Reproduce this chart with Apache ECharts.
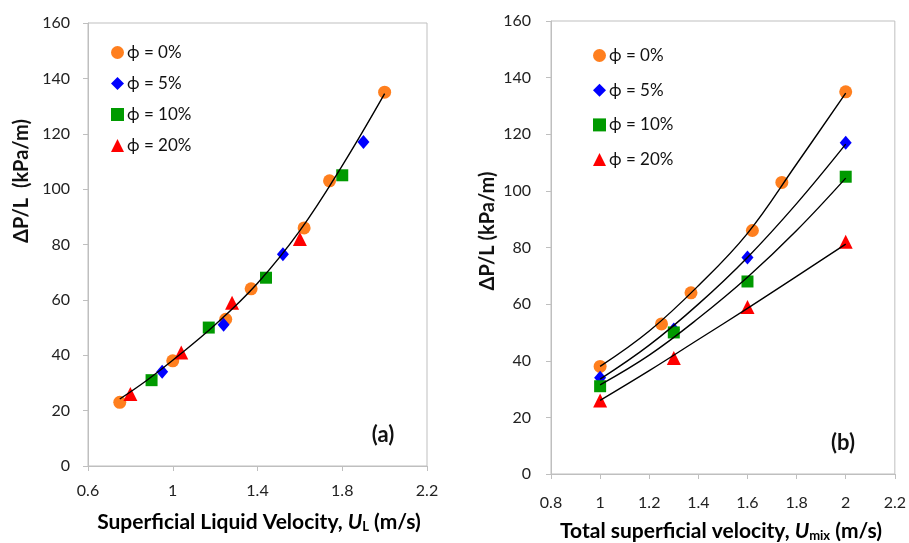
<!DOCTYPE html>
<html>
<head>
<meta charset="utf-8">
<script src="https://cdn.jsdelivr.net/npm/echarts@6/dist/echarts.min.js"></script>
<style>
  html, body { margin: 0; padding: 0; background: #fff; }
  #chart { width: 909px; height: 543px; }
</style>
</head>
<body>
<div id="chart"></div>
<script>
// Panel (a): pressure gradient vs superficial liquid velocity
const seriesNames = ['ϕ = 0%', 'ϕ = 5%', 'ϕ = 10%', 'ϕ = 20%'];

const aX0 = [0.75, 1.0, 1.25, 1.37, 1.62, 1.74, 2.0];
const aY0 = [23, 38, 53, 64, 86, 103, 135];
const aX5 = [0.95, 1.24, 1.52, 1.9];
const aY5 = [34, 51, 76.5, 117];
const aX10 = [0.9, 1.17, 1.44, 1.8];
const aY10 = [31, 50, 68, 105];
const aX20 = [0.8, 1.04, 1.28, 1.6];
const aY20 = [26, 41, 59, 82];

// single trend curve through all loadings
const aFitX = [0.75, 0.875, 1.0, 1.2, 1.4, 1.6, 1.8, 2.0];
const aFitY = [24.2, 30.8, 38.2, 51, 66, 85, 108.5, 134.5];

// Panel (b): pressure gradient vs total superficial velocity
const bX0 = [1.0, 1.25, 1.37, 1.62, 1.74, 2.0];
const bY0 = [38, 53, 64, 86, 103, 135];
const bX = [1.0, 1.3, 1.6, 2.0];
const bY5 = [34, 51, 76.5, 117];
const bY10 = [31, 50, 68, 105];
const bY20 = [26, 41, 59, 82];

// one trend curve per loading
const bFitX = [1.0, 1.2, 1.4, 1.6, 1.8, 2.0];
const bFit0 = [38, 50.5, 66.5, 85, 109.5, 134.5];
const bFit5 = [33.5, 45.5, 60, 76.5, 95.5, 116.5];
const bFit10 = [31.5, 42, 55, 69.5, 86, 104.5];
const bFit20 = [26, 36.5, 47.5, 58.5, 69.8, 81.2];

const yTicks = { min: 0, max: 160, interval: 20 };
const aTicks = { min: 0.6, max: 2.2, interval: 0.4 };
const bTicks = { min: 0.8, max: 2.2, interval: 0.2 };

const colors = ['#FF7F1E', '#0000FF', '#009A00', '#FF0000'];
const symbols = ['circle', 'diamond', 'rect', 'triangle'];
const sizes = [13, [12, 14], 12, 14];

const FONT = 'Lato, "Open Sans", sans-serif';
const AXIS_GRAY = '#BFBFBF';

const zip = (xs, ys) => xs.map((x, i) => [x, ys[i]]);

function xAxisFor(ticks, gridIndex, margin) {
  return {
    type: 'value', gridIndex, min: ticks.min, max: ticks.max, interval: ticks.interval,
    axisLine: { show: true, lineStyle: { color: AXIS_GRAY, width: 1 } },
    axisTick: { show: true, length: 5, lineStyle: { color: AXIS_GRAY } },
    splitLine: { show: false },
    axisLabel: { fontFamily: FONT, fontSize: 16, color: '#222', margin }
  };
}
function yAxisFor(gridIndex, margin) {
  return {
    type: 'value', gridIndex, min: yTicks.min, max: yTicks.max, interval: yTicks.interval,
    axisLine: { show: true, lineStyle: { color: AXIS_GRAY, width: 1 } },
    axisTick: { show: true, length: 5, lineStyle: { color: AXIS_GRAY } },
    splitLine: { show: false },
    axisLabel: { fontFamily: FONT, fontSize: 16, color: '#222', margin }
  };
}

function scatter(i, data, axisIndex) {
  return {
    type: 'scatter', name: seriesNames[i], xAxisIndex: axisIndex, yAxisIndex: axisIndex,
    data, symbol: symbols[i], symbolSize: sizes[i],
    itemStyle: { color: colors[i], opacity: 1 }, z: 2, silent: true
  };
}
function fitLine(name, data, axisIndex) {
  return {
    type: 'line', name, xAxisIndex: axisIndex, yAxisIndex: axisIndex,
    data, smooth: 0.4, showSymbol: false, symbol: 'none',
    lineStyle: { color: '#000', width: 1.4 }, z: 5, silent: true
  };
}

function legendFor(left, top, gap) {
  return {
    left, top, orient: 'vertical', padding: 0, itemGap: gap,
    itemWidth: 13, itemHeight: 13, selectedMode: false,
    data: seriesNames,
    textStyle: { fontFamily: FONT, fontSize: 17, color: '#111', lineHeight: 17, padding: [0, 0, 0, -2] }
  };
}

const chart = echarts.init(document.getElementById('chart'), null, { renderer: 'canvas' });

const titleRich = {
  t: { fontFamily: FONT, fontSize: 21, fontWeight: 'bold', color: '#111' },
  u: { fontFamily: FONT, fontSize: 21, fontWeight: 'bold', fontStyle: 'italic', color: '#111' },
  s: { fontFamily: FONT, fontSize: 13, fontWeight: 'bold', color: '#111', padding: [10, 0, 0, 0] }
};

chart.setOption({
  animation: false,
  backgroundColor: '#fff',
  grid: [
    { left: 88, top: 23, width: 339, height: 443, show: true, borderColor: AXIS_GRAY, borderWidth: 1 },
    { left: 551, top: 21, width: 345, height: 453, show: true, borderColor: AXIS_GRAY, borderWidth: 1 }
  ],
  xAxis: [xAxisFor(aTicks, 0, 17), xAxisFor(bTicks, 1, 21)],
  yAxis: [yAxisFor(0, 18), yAxisFor(1, 20)],
  legend: [legendFor(111, 44, 14), legendFor(593, 47, 17.7)],
  series: [
    scatter(0, zip(aX0, aY0), 0),
    scatter(1, zip(aX5, aY5), 0),
    scatter(2, zip(aX10, aY10), 0),
    scatter(3, zip(aX20, aY20), 0),
    fitLine('trend', zip(aFitX, aFitY), 0),
    scatter(0, zip(bX0, bY0), 1),
    scatter(1, zip(bX, bY5), 1),
    scatter(2, zip(bX, bY10), 1),
    scatter(3, zip(bX, bY20), 1),
    fitLine('trend 0%', zip(bFitX, bFit0), 1),
    fitLine('trend 5%', zip(bFitX, bFit5), 1),
    fitLine('trend 10%', zip(bFitX, bFit10), 1),
    fitLine('trend 20%', zip(bFitX, bFit20), 1)
  ],
  graphic: [
    {
      type: 'text', x: 22, y: 181, rotation: Math.PI / 2,
      style: { text: 'ΔP/L  (kPa/m)', fontFamily: FONT, fontSize: 20, fontWeight: 'bold', fill: '#111', align: 'center', verticalAlign: 'middle' }
    },
    {
      type: 'text', x: 488, y: 231, rotation: Math.PI / 2,
      style: { text: 'ΔP/L (kPa/m)', fontFamily: FONT, fontSize: 20, fontWeight: 'bold', fill: '#111', align: 'center', verticalAlign: 'middle' }
    },
    {
      type: 'text', x: 259, y: 522,
      style: { text: '{t|Superficial Liquid Velocity, }{u|U}{s|L}{t| (m/s)}', rich: titleRich, align: 'center', verticalAlign: 'middle' }
    },
    {
      type: 'text', x: 721, y: 531,
      style: { text: '{t|Total superficial velocity, }{u|U}{s|mix}{t| (m/s)}', rich: titleRich, align: 'center', verticalAlign: 'middle' }
    },
    {
      type: 'text', x: 383, y: 435,
      style: { text: '(a)', fontFamily: FONT, fontSize: 22, fontWeight: 'bold', fill: '#111', align: 'center', verticalAlign: 'middle' }
    },
    {
      type: 'text', x: 843, y: 443,
      style: { text: '(b)', fontFamily: FONT, fontSize: 22, fontWeight: 'bold', fill: '#111', align: 'center', verticalAlign: 'middle' }
    }
  ]
});
</script>
</body>
</html>
